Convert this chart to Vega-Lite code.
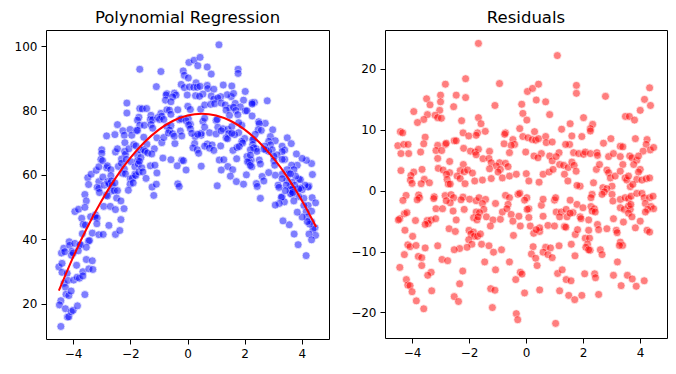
{
  "$schema": "https://vega.github.io/schema/vega-lite/v6.json",
  "background": "white",
  "padding": {"left": 13, "top": 9, "right": 5, "bottom": 5},
  "spacing": 20,
  "config": {
    "view": {"stroke": "black", "strokeWidth": 1},
    "font": "DejaVu Sans",
    "axis": {"grid": false, "domain": false, "title": null, "labelFont": "DejaVu Sans", "labelFontSize": 12, "labelColor": "black", "tickColor": "black", "tickSize": 5, "tickWidth": 1, "labelPadding": 4},
    "title": {"font": "DejaVu Sans", "fontSize": 16.5, "fontWeight": "normal", "color": "black", "anchor": "middle", "baseline": "alphabetic", "offset": 4}
  },
  "datasets": {
    "pts": [
{"x":-1.67,"y":92.8,"r":24.2},{"x":-2.12,"y":82.3,"r":18.4},{"x":-2.83,"y":72.1,"r":17.5},{"x":-3.49,"y":59.1,"r":15.1},{"x":-3.37,"y":60.2,"r":14.1},{"x":-3.0,"y":67.8,"r":15.7},{"x":-3.0,"y":66.7,"r":14.6},{"x":-2.45,"y":75.6,"r":15.7},{"x":-2.12,"y":79.2,"r":15.3},{"x":-2.54,"y":72.5,"r":13.8},
{"x":-3.94,"y":48.6,"r":13.0},{"x":-3.03,"y":64.8,"r":13.2},{"x":-3.46,"y":57.0,"r":12.5},{"x":-3.19,"y":61.4,"r":12.4},{"x":-3.59,"y":53.9,"r":11.7},{"x":-3.81,"y":49.3,"r":11.2},{"x":-3.1,"y":62.5,"r":12.0},{"x":-2.97,"y":64.4,"r":11.9},{"x":-2.26,"y":73.7,"r":11.5},{"x":-1.67,"y":80.6,"r":12.0},
{"x":-2.21,"y":72.3,"r":9.5},{"x":-4.41,"y":35.7,"r":9.7},{"x":-4.33,"y":37.2,"r":9.5},{"x":-1.70,"y":77.9,"r":9.5},{"x":1.10,"y":100.4,"r":22.2},{"x":-0.93,"y":92.1,"r":17.6},{"x":0.05,"y":94.9,"r":16.3},{"x":0.23,"y":95.6,"r":16.8},{"x":0.44,"y":96.5,"r":17.5},{"x":0.36,"y":93.9,"r":14.9},
{"x":0.69,"y":93.5,"r":14.6},{"x":-0.15,"y":92.3,"r":14.2},{"x":-1.09,"y":87.4,"r":14.0},{"x":-0.11,"y":90.9,"r":12.7},{"x":0.83,"y":91.3,"r":12.5},{"x":0.03,"y":90.1,"r":11.6},{"x":-1.58,"y":80.5,"r":11.0},{"x":-0.22,"y":88.1,"r":10.2},{"x":1.25,"y":87.9,"r":10.1},{"x":1.55,"y":87.6,"r":11.0},
{"x":-1.43,"y":80.6,"r":9.75},{"x":-0.72,"y":85.2,"r":9.5},{"x":0.30,"y":88.6,"r":9.7},{"x":1.77,"y":92.8,"r":17.3},{"x":1.77,"y":91.5,"r":16.0},{"x":2.79,"y":83.0,"r":15.5},{"x":4.34,"y":63.5,"r":16.9},{"x":4.16,"y":64.5,"r":15.0},{"x":4.37,"y":60.1,"r":14.0},{"x":4.01,"y":65.1,"r":13.2},
{"x":2.02,"y":85.9,"r":12.0},{"x":3.49,"y":71.5,"r":12.2},{"x":3.63,"y":69.7,"r":12.2},{"x":3.81,"y":66.5,"r":11.6},{"x":2.34,"y":82.5,"r":10.9},{"x":2.26,"y":82.4,"r":10.2},{"x":-3.54,"y":51.9,"r":8.8},{"x":-2.01,"y":74.1,"r":9.0},{"x":-1.75,"y":77.0,"r":9.1},{"x":-2.83,"y":62.2,"r":7.6},
{"x":-2.80,"y":62.8,"r":7.8},{"x":-3.1,"y":57.9,"r":7.45},{"x":-2.52,"y":67.1,"r":8.2},{"x":-2.45,"y":68.1,"r":8.2},{"x":-4.5,"y":31.4,"r":7.4},{"x":-4.29,"y":36.1,"r":7.6},{"x":-4.14,"y":39.2,"r":7.6},{"x":-3.59,"y":49.9,"r":7.7},{"x":-4.39,"y":32.5,"r":6.1},{"x":-4.12,"y":38.1,"r":6.1},
{"x":-3.7,"y":46.5,"r":6.35},{"x":-3.16,"y":56.1,"r":6.6},{"x":-2.96,"y":59.3,"r":6.6},{"x":-2.19,"y":70.0,"r":6.96},{"x":-1.95,"y":72.3,"r":6.5},{"x":-1.79,"y":73.8,"r":6.35},{"x":-1.67,"y":75.4,"r":6.8},{"x":-1.75,"y":73.8,"r":5.9},{"x":-3.1,"y":55.8,"r":5.3},{"x":-2.68,"y":61.6,"r":4.8},
{"x":-2.2,"y":67.3,"r":4.3},{"x":-4.39,"y":29.7,"r":3.3},{"x":-3.94,"y":38.7,"r":3.06},{"x":-4.04,"y":36.2,"r":2.5},{"x":-3.65,"y":44.6,"r":3.5},{"x":-3.08,"y":54.5,"r":3.67},{"x":-2.91,"y":56.8,"r":3.4},{"x":-2.68,"y":59.7,"r":2.96},{"x":-2.79,"y":57.9,"r":2.7},{"x":-2.31,"y":64.9,"r":3.3},
{"x":-2.17,"y":66.4,"r":3.1},{"x":-2.05,"y":68.1,"r":3.4},{"x":-1.88,"y":69.4,"r":2.9},{"x":-1.8,"y":69.0,"r":1.6},{"x":-2.42,"y":62.6,"r":2.4},{"x":-2.31,"y":63.6,"r":2.0},{"x":-3.57,"y":44.4,"r":1.86},{"x":-3.39,"y":47.0,"r":1.3},{"x":-2.77,"y":57.3,"r":1.86},{"x":-4.06,"y":35.0,"r":1.74},
{"x":-4.0,"y":35.7,"r":1.2},{"x":-3.68,"y":41.7,"r":1.15},{"x":-2.73,"y":57.2,"r":1.1},{"x":-2.66,"y":58.1,"r":1.1},{"x":-2.14,"y":64.8,"r":1.15},{"x":-4.21,"y":29.4,"r":-0.77},{"x":-3.77,"y":38.2,"r":-0.7},{"x":-3.74,"y":38.3,"r":-1.15},{"x":-3.82,"y":36.4,"r":-1.5},{"x":-3.22,"y":47.6,"r":-1.0},
{"x":-3.24,"y":46.9,"r":-1.3},{"x":-4.32,"y":26.3,"r":-1.6},{"x":-2.84,"y":53.7,"r":-0.8},{"x":-2.63,"y":56.8,"r":-0.65},{"x":-2.54,"y":57.5,"r":-1.15},{"x":-2.66,"y":55.0,"r":-2.0},{"x":-2.8,"y":53.4,"r":-1.65},{"x":-2.21,"y":61.8,"r":-1.05},{"x":-2.28,"y":60.5,"r":-1.5},{"x":-1.98,"y":64.1,"r":-1.4},
{"x":-1.75,"y":66.2,"r":-1.65},{"x":-3.16,"y":46.6,"r":-2.96},{"x":-2.93,"y":50.2,"r":-2.96},{"x":-2.17,"y":60.3,"r":-3.07},{"x":-2.56,"y":55.1,"r":-3.35},{"x":-1.75,"y":64.4,"r":-3.5},{"x":-4.27,"y":25.1,"r":-3.8},{"x":-4.18,"y":27.2,"r":-3.6},{"x":-4.43,"y":20.9,"r":-4.6},{"x":-4.48,"y":19.6,"r":-4.8},
{"x":-3.88,"y":31.9,"r":-4.9},{"x":-3.47,"y":39.4,"r":-4.9},{"x":-3.33,"y":41.9,"r":-4.8},{"x":-3.43,"y":39.6,"r":-5.4},{"x":-3.54,"y":37.5,"r":-5.55},{"x":-3.17,"y":44.8,"r":-4.6},{"x":-2.45,"y":55.1,"r":-4.8},{"x":-2.7,"y":50.2,"r":-6.25},{"x":-1.84,"y":62.5,"r":-4.44},{"x":-1.72,"y":63.4,"r":-4.8},
{"x":-4.25,"y":22.9,"r":-6.5},{"x":-2.0,"y":58.8,"r":-6.5},{"x":-1.84,"y":60.2,"r":-6.8},{"x":-3.98,"y":27.3,"r":-7.5},{"x":-2.48,"y":52.8,"r":-6.7},{"x":-1.93,"y":58.9,"r":-7.1},{"x":-1.81,"y":59.8,"r":-7.5},{"x":-1.7,"y":60.9,"r":-7.5},{"x":-1.6,"y":62.2,"r":-7.1},{"x":-2.01,"y":57.1,"r":-8.06},
{"x":-1.9,"y":57.5,"r":-8.8},{"x":-2.07,"y":55.2,"r":-9.3},{"x":-2.33,"y":51.9,"r":-9.5},{"x":-2.52,"y":49.2,"r":-9.7},{"x":-4.15,"y":22.5,"r":-8.9},{"x":-4.07,"y":23.9,"r":-9.2},{"x":-3.86,"y":28.2,"r":-9.0},{"x":-3.54,"y":33.7,"r":-9.4},{"x":-3.1,"y":41.4,"r":-9.05},{"x":-4.27,"y":18.4,"r":-10.5},
{"x":-3.78,"y":27.9,"r":-10.8},{"x":-3.66,"y":29.9,"r":-11.0},{"x":-2.95,"y":41.5,"r":-11.3},{"x":-2.75,"y":44.3,"r":-11.5},{"x":-4.43,"y":12.9,"r":-12.6},{"x":-3.66,"y":28.6,"r":-12.3},{"x":-3.33,"y":33.3,"r":-13.4},{"x":-3.45,"y":30.8,"r":-13.9},{"x":-2.22,"y":49.5,"r":-13.2},{"x":-4.2,"y":15.8,"r":-14.6},
{"x":-4.15,"y":15.9,"r":-15.5},{"x":-4.07,"y":17.5,"r":-15.6},{"x":-2.33,"y":46.1,"r":-15.3},{"x":-4.0,"y":17.9,"r":-16.6},{"x":-3.31,"y":30.6,"r":-16.45},{"x":-2.52,"y":41.5,"r":-17.4},{"x":-2.37,"y":42.7,"r":-18.2},{"x":-3.85,"y":19.3,"r":-18.1},{"x":-3.59,"y":22.8,"r":-19.4},{"x":-0.44,"y":69.7,"r":-7.35},
{"x":0.27,"y":71.9,"r":-7.0},{"x":0.48,"y":72.3,"r":-6.7},{"x":-1.56,"y":60.9,"r":-8.8},{"x":-1.3,"y":62.8,"r":-9.05},{"x":-1.14,"y":63.0,"r":-10.1},{"x":-0.86,"y":65.2,"r":-9.7},{"x":-1.45,"y":58.9,"r":-11.7},{"x":-0.58,"y":64.7,"r":-11.7},{"x":-1.07,"y":60.6,"r":-13.0},{"x":0.25,"y":69.7,"r":-9.2},
{"x":0.19,"y":68.4,"r":-10.4},{"x":0.34,"y":67.8,"r":-11.1},{"x":0.39,"y":66.7,"r":-12.3},{"x":0.69,"y":69.6,"r":-9.3},{"x":0.6,"y":68.9,"r":-10.1},{"x":0.86,"y":69.3,"r":-9.4},{"x":0.77,"y":68.3,"r":-10.5},{"x":0.92,"y":67.6,"r":-11.0},{"x":1.16,"y":69.0,"r":-9.05},{"x":1.59,"y":67.6,"r":-8.8},
{"x":-0.2,"y":64.5,"r":-13.4},{"x":-0.14,"y":64.4,"r":-13.7},{"x":-0.36,"y":62.8,"r":-14.6},{"x":1.11,"y":64.6,"r":-13.6},{"x":1.27,"y":64.7,"r":-13.0},{"x":1.41,"y":62.6,"r":-14.6},{"x":1.58,"y":61.6,"r":-14.8},{"x":-1.24,"y":56.2,"r":-16.1},{"x":-1.09,"y":57.1,"r":-16.35},{"x":-0.05,"y":61.5,"r":-16.8},
{"x":0.48,"y":62.7,"r":-16.3},{"x":1.18,"y":61.5,"r":-16.45},{"x":1.5,"y":59.6,"r":-17.2},{"x":-1.18,"y":53.6,"r":-19.2},{"x":-0.34,"y":57.2,"r":-20.2},{"x":-0.29,"y":56.4,"r":-21.2},{"x":1.04,"y":56.6,"r":-21.8},{"x":1.73,"y":68.5,"r":-7.2},{"x":2.08,"y":65.7,"r":-7.8},{"x":2.23,"y":64.6,"r":-7.8},
{"x":2.16,"y":64.1,"r":-8.8},{"x":2.1,"y":64.1,"r":-9.3},{"x":2.25,"y":62.5,"r":-9.8},{"x":2.2,"y":62.9,"r":-9.7},{"x":2.61,"y":59.5,"r":-9.7},{"x":2.67,"y":58.1,"r":-10.5},{"x":1.72,"y":65.0,"r":-10.7},{"x":3.31,"y":53.2,"r":-8.45},{"x":3.39,"y":51.6,"r":-9.0},{"x":3.28,"y":53.0,"r":-9.0},
{"x":3.21,"y":51.1,"r":-11.7},{"x":2.06,"y":60.0,"r":-13.65},{"x":2.41,"y":57.3,"r":-13.65},{"x":2.44,"y":56.4,"r":-14.3},{"x":3.07,"y":50.6,"r":-13.9},{"x":3.56,"y":44.5,"r":-13.9},{"x":3.73,"y":41.6,"r":-14.5},{"x":4.15,"y":34.9,"r":-14.8},{"x":3.34,"y":45.7,"r":-15.6},{"x":3.87,"y":38.3,"r":-15.7},
{"x":1.71,"y":57.9,"r":-17.9},{"x":1.96,"y":57.1,"r":-17.2},{"x":2.55,"y":52.7,"r":-17.05},{"x":-0.75,"y":84.8,"r":9.26},{"x":-0.77,"y":83.2,"r":7.7},{"x":-0.46,"y":85.4,"r":8.4},{"x":-0.4,"y":84.8,"r":7.6},{"x":-0.52,"y":84.2,"r":7.45},{"x":-0.11,"y":87.1,"r":8.9},{"x":0.07,"y":87.3,"r":8.7},
{"x":0.22,"y":87.2,"r":8.4},{"x":0.34,"y":87.2,"r":8.3},{"x":0.44,"y":87.5,"r":8.55},{"x":0.69,"y":87.8,"r":8.9},{"x":0.71,"y":86.8,"r":7.9},{"x":0.92,"y":86.6,"r":8.0},{"x":1.53,"y":84.3,"r":7.6},{"x":1.39,"y":84.9,"r":7.6},{"x":-1.28,"y":78.5,"r":6.46},{"x":-1.51,"y":75.4,"r":5.26},
{"x":-1.3,"y":77.2,"r":5.3},{"x":-0.58,"y":82.7,"r":6.25},{"x":-0.01,"y":84.8,"r":6.35},{"x":0.28,"y":84.6,"r":5.7},{"x":0.54,"y":85.1,"r":6.1},{"x":0.42,"y":84.4,"r":5.4},{"x":0.83,"y":84.5,"r":5.7},{"x":0.92,"y":83.5,"r":4.9},{"x":1.16,"y":84.3,"r":6.25},{"x":1.06,"y":83.9,"r":5.6},
{"x":-1.22,"y":77.1,"r":4.6},{"x":-0.93,"y":79.1,"r":4.6},{"x":-0.72,"y":80.2,"r":4.5},{"x":-1.04,"y":77.8,"r":4.05},{"x":-0.63,"y":80.1,"r":3.95},{"x":-0.9,"y":78.2,"r":3.5},{"x":-1.28,"y":75.6,"r":3.6},{"x":-0.98,"y":77.2,"r":3.06},{"x":-1.53,"y":71.7,"r":1.74},{"x":-1.22,"y":74.5,"r":2.0},
{"x":-0.83,"y":77.2,"r":2.1},{"x":-0.58,"y":78.8,"r":2.4},{"x":-0.34,"y":80.2,"r":2.7},{"x":0.01,"y":81.3,"r":2.8},{"x":0.1,"y":80.3,"r":1.6},{"x":0.46,"y":80.4,"r":1.4},{"x":0.6,"y":81.7,"r":2.7},{"x":0.81,"y":81.9,"r":3.06},{"x":0.95,"y":82.1,"r":3.5},{"x":1.18,"y":82.3,"r":4.3},
{"x":1.32,"y":81.7,"r":4.16},{"x":1.48,"y":80.7,"r":3.8},{"x":1.35,"y":80.1,"r":2.7},{"x":1.47,"y":78.5,"r":1.6},{"x":-1.65,"y":67.7,"r":-1.15},{"x":-1.42,"y":69.5,"r":-1.43},{"x":-1.53,"y":67.8,"r":-2.1},{"x":-1.48,"y":67.3,"r":-3.07},{"x":-1.07,"y":71.5,"r":-2.1},{"x":-0.72,"y":75.0,"r":-0.77},
{"x":-0.58,"y":75.3,"r":-1.15},{"x":-0.63,"y":73.9,"r":-2.25},{"x":-0.28,"y":77.1,"r":-0.6},{"x":-0.22,"y":77.4,"r":-0.44},{"x":0.03,"y":77.4,"r":-1.15},{"x":-0.05,"y":76.8,"r":-1.55},{"x":0.1,"y":75.7,"r":-2.96},{"x":0.04,"y":75.5,"r":-3.07},{"x":0.54,"y":76.6,"r":-2.4},{"x":0.6,"y":77.6,"r":-1.4},
{"x":1.0,"y":76.9,"r":-1.55},{"x":1.04,"y":77.2,"r":-1.15},{"x":1.06,"y":74.8,"r":-3.5},{"x":1.24,"y":74.3,"r":-3.5},{"x":1.41,"y":74.1,"r":-3.07},{"x":1.55,"y":75.0,"r":-1.55},{"x":-1.63,"y":65.4,"r":-3.6},{"x":-1.68,"y":64.2,"r":-4.3},{"x":-1.39,"y":66.8,"r":-4.3},{"x":-1.16,"y":68.1,"r":-4.8},
{"x":-0.9,"y":70.0,"r":-4.7},{"x":-0.83,"y":71.6,"r":-3.5},{"x":-0.67,"y":73.0,"r":-2.96},{"x":-0.52,"y":72.8,"r":-3.9},{"x":-0.25,"y":73.6,"r":-4.2},{"x":-0.46,"y":72.0,"r":-5.0},{"x":-0.2,"y":72.1,"r":-5.8},{"x":0.1,"y":74.3,"r":-4.4},{"x":0.15,"y":72.9,"r":-5.8},{"x":0.48,"y":72.9,"r":-6.1},
{"x":0.36,"y":72.6,"r":-6.4},{"x":0.6,"y":74.8,"r":-4.2},{"x":0.77,"y":73.1,"r":-5.7},{"x":1.0,"y":72.7,"r":-5.8},{"x":1.18,"y":73.7,"r":-4.3},{"x":1.44,"y":72.8,"r":-4.3},{"x":1.35,"y":71.5,"r":-5.9},{"x":1.4,"y":71.2,"r":-6.0},{"x":-1.25,"y":66.5,"r":-5.8},{"x":1.61,"y":85.3,"r":9.0},
{"x":1.96,"y":83.2,"r":8.9},{"x":2.26,"y":82.0,"r":9.8},{"x":2.72,"y":76.0,"r":7.8},{"x":2.98,"y":74.0,"r":8.55},{"x":3.31,"y":68.9,"r":7.3},{"x":3.4,"y":67.7,"r":7.2},{"x":3.84,"y":63.0,"r":8.55},{"x":4.25,"y":56.5,"r":8.4},{"x":4.22,"y":56.2,"r":7.6},{"x":4.36,"y":52.9,"r":6.7},
{"x":4.48,"y":51.3,"r":7.1},{"x":4.11,"y":56.8,"r":6.5},{"x":1.67,"y":82.2,"r":6.25},{"x":1.85,"y":81.1,"r":6.1},{"x":2.02,"y":79.9,"r":5.97},{"x":2.08,"y":79.9,"r":6.35},{"x":2.26,"y":78.3,"r":6.1},{"x":2.49,"y":76.5,"r":6.25},{"x":2.51,"y":75.9,"r":5.8},{"x":2.9,"y":71.9,"r":5.6},
{"x":3.07,"y":70.6,"r":6.1},{"x":3.31,"y":67.2,"r":5.6},{"x":3.64,"y":63.0,"r":5.7},{"x":3.72,"y":61.6,"r":5.4},{"x":3.89,"y":58.7,"r":5.0},{"x":3.95,"y":58.5,"r":5.7},{"x":3.4,"y":64.8,"r":4.3},{"x":3.78,"y":59.6,"r":4.3},{"x":4.01,"y":55.4,"r":3.5},{"x":3.95,"y":55.9,"r":3.06},
{"x":1.61,"y":81.0,"r":4.7},{"x":1.69,"y":80.0,"r":4.16},{"x":1.76,"y":78.7,"r":3.2},{"x":2.47,"y":74.0,"r":3.5},{"x":2.58,"y":73.8,"r":4.3},{"x":2.84,"y":70.4,"r":3.4},{"x":2.9,"y":69.3,"r":2.96},{"x":2.96,"y":67.8,"r":2.1},{"x":3.13,"y":66.2,"r":2.4},{"x":3.31,"y":64.8,"r":3.2},
{"x":3.48,"y":61.6,"r":2.1},{"x":3.54,"y":60.4,"r":1.74},{"x":3.6,"y":60.3,"r":2.4},{"x":3.89,"y":55.6,"r":1.86},{"x":4.07,"y":52.7,"r":1.74},{"x":4.22,"y":50.5,"r":1.97},{"x":4.34,"y":48.7,"r":2.1},{"x":2.37,"y":72.6,"r":1.3},{"x":1.9,"y":75.4,"r":0.75},{"x":1.79,"y":76.2,"r":0.87},
{"x":2.7,"y":68.9,"r":0.5},{"x":3.02,"y":65.8,"r":0.75},{"x":2.84,"y":67.3,"r":0.33},{"x":2.75,"y":67.7,"r":-0.2},{"x":3.66,"y":57.7,"r":0.66},{"x":3.75,"y":56.8,"r":1.04},{"x":2.32,"y":71.1,"r":-0.6},{"x":2.28,"y":70.9,"r":-1.15},{"x":2.67,"y":68.0,"r":-0.6},{"x":3.02,"y":64.4,"r":-0.6},
{"x":3.05,"y":63.0,"r":-1.7},{"x":3.31,"y":60.2,"r":-1.43},{"x":3.48,"y":58.3,"r":-1.15},{"x":3.6,"y":56.6,"r":-1.3},{"x":3.69,"y":55.7,"r":-0.9},{"x":3.89,"y":53.3,"r":-0.44},{"x":4.07,"y":50.5,"r":-0.44},{"x":4.15,"y":48.5,"r":-1.15},{"x":4.34,"y":45.4,"r":-1.15},{"x":4.46,"y":43.6,"r":-0.9},
{"x":1.79,"y":73.1,"r":-2.25},{"x":2.0,"y":71.3,"r":-2.8},{"x":1.65,"y":72.5,"r":-3.6},{"x":1.9,"y":70.4,"r":-4.3},{"x":2.28,"y":69.4,"r":-2.6},{"x":2.4,"y":68.1,"r":-2.96},{"x":2.32,"y":68.4,"r":-3.35},{"x":2.43,"y":67.3,"r":-3.5},{"x":3.31,"y":58.8,"r":-2.8},{"x":3.45,"y":56.8,"r":-3.07},
{"x":3.6,"y":55.4,"r":-2.5},{"x":3.66,"y":54.0,"r":-3.07},{"x":3.6,"y":54.2,"r":-3.7},{"x":3.68,"y":54.5,"r":-2.25},{"x":4.19,"y":46.9,"r":-2.1},{"x":4.39,"y":43.1,"r":-2.6},{"x":4.48,"y":41.2,"r":-2.96},{"x":4.27,"y":44.7,"r":-3.07},{"x":4.19,"y":45.5,"r":-3.5},{"x":1.55,"y":72.9,"r":-3.7},
{"x":1.93,"y":69.9,"r":-4.6},{"x":2.2,"y":67.8,"r":-4.8},{"x":2.51,"y":64.6,"r":-5.55},{"x":3.07,"y":59.9,"r":-4.6},{"x":3.42,"y":55.1,"r":-5.16},{"x":3.72,"y":51.9,"r":-4.3},{"x":4.01,"y":46.9,"r":-5.0},{"x":1.81,"y":68.8,"r":-6.4},{"x":2.2,"y":66.1,"r":-6.5},{"x":2.55,"y":63.4,"r":-6.4},
{"x":2.84,"y":60.7,"r":-6.25},{"x":3.17,"y":56.8,"r":-6.5},{"x":3.2,"y":56.1,"r":-6.9},{"x":3.84,"y":48.4,"r":-6.1},{"x":4.25,"y":41.6,"r":-6.5},{"x":4.34,"y":39.8,"r":-6.8}
    ],
    "fit": [
{"x":-4.5,"y":24.0},{"x":-4.0,"y":34.45},{"x":-3.5,"y":43.8},{"x":-3.0,"y":52.05},{"x":-2.5,"y":59.2},{"x":-2.0,"y":65.25},{"x":-1.5,"y":70.2},{"x":-1.0,"y":74.05},{"x":-0.5,"y":76.8},{"x":0.0,"y":78.45},{"x":0.5,"y":79.0},{"x":1.0,"y":78.45},{"x":1.5,"y":76.8},{"x":2.0,"y":74.05},{"x":2.5,"y":70.2},{"x":3.0,"y":65.25},{"x":3.5,"y":59.2},{"x":4.0,"y":52.05},{"x":4.5,"y":43.8}
    ]
  },
  "hconcat": [
    {
      "title": "Polynomial Regression",
      "width": 283,
      "height": 309,
      "layer": [
        {
          "data": {"name": "pts"},
          "mark": {"type": "point", "shape": "circle", "filled": true, "size": 64, "color": "blue", "opacity": 0.5, "stroke": "white", "strokeWidth": 0.7},
          "encoding": {
            "x": {"field": "x", "type": "quantitative", "scale": {"domain": [-4.95, 4.95], "nice": false, "zero": false}, "axis": {"values": [-4, -2, 0, 2, 4]}},
            "y": {"field": "y", "type": "quantitative", "scale": {"domain": [9, 105], "nice": false, "zero": false}, "axis": {"values": [20, 40, 60, 80, 100]}}
          }
        },
        {
          "data": {"name": "fit"},
          "mark": {"type": "line", "color": "red", "strokeWidth": 2, "interpolate": "monotone"},
          "encoding": {
            "x": {"field": "x", "type": "quantitative"},
            "y": {"field": "y", "type": "quantitative"}
          }
        }
      ]
    },
    {
      "title": "Residuals",
      "width": 282,
      "height": 308,
      "layer": [
        {
          "data": {"name": "pts"},
          "mark": {"type": "point", "shape": "circle", "filled": true, "size": 64, "color": "red", "opacity": 0.5, "stroke": "white", "strokeWidth": 0.7},
          "encoding": {
            "x": {"field": "x", "type": "quantitative", "scale": {"domain": [-4.95, 4.95], "nice": false, "zero": false}, "axis": {"values": [-4, -2, 0, 2, 4]}},
            "y": {"field": "r", "type": "quantitative", "scale": {"domain": [-24.2, 26.4], "nice": false, "zero": false}, "axis": {"values": [-20, -10, 0, 10, 20]}}
          }
        },
        {
          "mark": {"type": "rule", "color": "#1f77b4", "strokeWidth": 1.5, "strokeDash": [5.5, 2.4]},
          "encoding": {"y": {"datum": 0}}
        }
      ]
    }
  ]
}
